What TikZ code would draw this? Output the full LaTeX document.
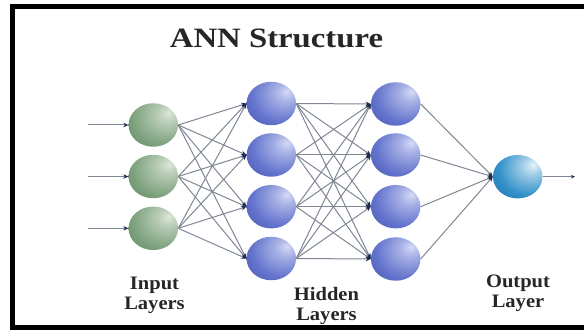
\documentclass[tikz,border=0pt]{standalone}
\usepackage{fontspec}
\setmainfont{Liberation Serif}
\newfontfamily\titlefont[FakeStretch=1.17]{Liberation Serif}
\newfontfamily\labelfont[FakeStretch=1.08]{Liberation Serif}
\usetikzlibrary{arrows.meta,shapes.geometric}
\definecolor{bLight}{HTML}{D4DAF5}
\definecolor{bMid}{HTML}{6676CE}
\definecolor{bDark}{HTML}{34429E}
\definecolor{gLight}{HTML}{DDE7D9}
\definecolor{gMid}{HTML}{82A582}
\definecolor{gDark}{HTML}{46734C}
\definecolor{oLight}{HTML}{E8F4FA}
\definecolor{oMid}{HTML}{3592CA}
\definecolor{oDark}{HTML}{0C5E9C}
\definecolor{edgeGray}{HTML}{7F8795}
\definecolor{tipNavy}{HTML}{1C2A55}
\pgfdeclareradialshading{gball}{\pgfpoint{16bp}{14bp}}{color(0bp)=(gLight); color(10bp)=(gLight!60!gMid); color(30bp)=(gMid); color(58bp)=(gDark); color(100bp)=(gDark)}
\pgfdeclareradialshading{bball}{\pgfpoint{16bp}{14bp}}{color(0bp)=(bLight); color(10bp)=(bLight!60!bMid); color(30bp)=(bMid); color(58bp)=(bDark); color(100bp)=(bDark)}
\pgfdeclareradialshading{oball}{\pgfpoint{16bp}{14bp}}{color(0bp)=(oLight); color(10bp)=(oLight!60!oMid); color(30bp)=(oMid); color(58bp)=(oDark); color(100bp)=(oDark)}
\tikzset{
  neuron/.style={ellipse, minimum width=49.5pt, minimum height=43.5pt, inner sep=0pt},
  inneuron/.style={neuron, shading=gball},
  hidneuron/.style={neuron, shading=bball},
  outneuron/.style={neuron, shading=oball},
  link/.style={draw=edgeGray, line width=1pt, -{Stealth[length=5pt,width=4.5pt,color=tipNavy,fill=tipNavy]}},
  lbl/.style={align=center, anchor=north, inner sep=0pt, font=\labelfont\fontsize{19}{20}\selectfont\bfseries, text=black!85},
}
\begin{document}
\begin{tikzpicture}[x=1pt,y=-1pt]
\useasboundingbox (0,0) rectangle (584,331);
\fill[white] (0,0) rectangle (584,331);
% frame
\draw[line width=5pt, black] (584,6.5) -- (12.5,6.5) -- (12.5,327.5) -- (584,327.5);
% title
\node[anchor=north, inner sep=0pt, font=\titlefont\fontsize{28}{30}\selectfont\bfseries, text=black!85] (title) at (276.5,28.5) {ANN Structure};
% nodes
\foreach \i/\y in {1/125,2/176.5,3/228.3}
  \node[inneuron] (i\i) at (153.3,\y) {};
\foreach \i/\y in {1/103.5,2/155,3/206.7,4/258.5}
  \node[hidneuron] (h\i) at (271.3,\y) {};
\foreach \i/\y in {1/104,2/155,3/206.7,4/259}
  \node[hidneuron] (k\i) at (395.7,\y) {};
\node[outneuron] (o) at (517.7,176.7) {};
% input arrows
\foreach \i/\y in {1/125,2/176.5,3/228.3}
  \coordinate (s\i) at (87.5,\y);
\foreach \i in {1,2,3}
  \draw[link] (s\i) -- (i\i.west);
% input -> hidden1
\foreach \a in {1,2,3}
  \foreach \b in {1,2,3,4}
    \draw[link] (i\a.east) -- (h\b.west);
% hidden1 -> hidden2
\foreach \a in {1,2,3,4}
  \foreach \b in {1,2,3,4}
    \draw[link] (h\a.east) -- (k\b.west);
% hidden2 -> output
\foreach \a in {1,2,3,4}
  \draw[link] (k\a.east) -- (o.west);
% output arrow
\coordinate (e) at (575,176.7);
\draw[link, -{Stealth[length=4pt,width=3.5pt,color=tipNavy,fill=tipNavy]}] (o.east) -- (e);
% labels
\node[lbl] (lin) at (154.5,276.5) {Input\\Layers};
\node[lbl] (lhid) at (326.5,287) {Hidden\\Layers};
\node[lbl] (lout) at (518,275) {Output\\Layer};
\end{tikzpicture}
\end{document}
